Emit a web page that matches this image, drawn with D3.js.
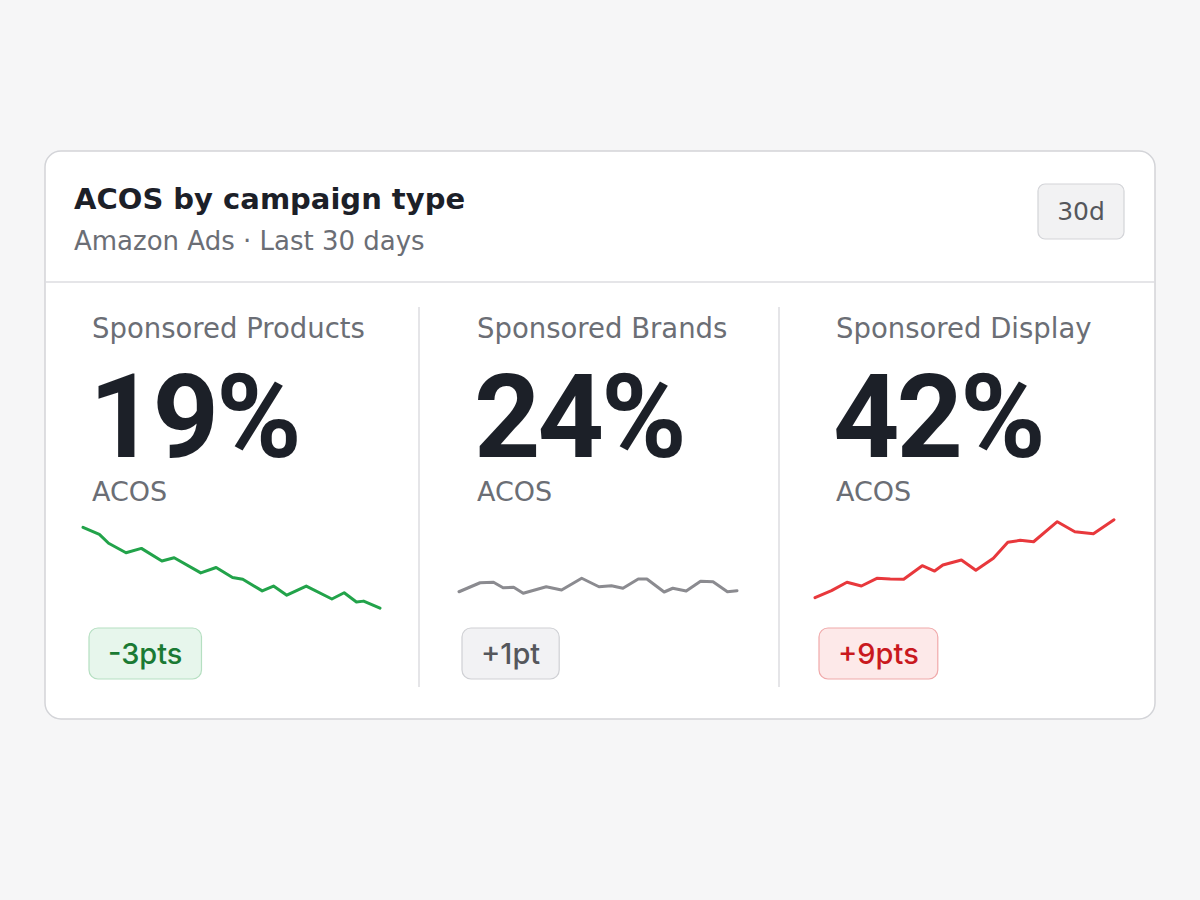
<!DOCTYPE html>
<html><head><meta charset="utf-8">
<script src="https://cdn.jsdelivr.net/npm/d3@7/dist/d3.min.js"></script>
<style>html,body{margin:0;padding:0;background:#f6f6f7;}svg{display:block;font-family:"DejaVu Sans",sans-serif;}</style>
</head><body>
<script>
// ---- data ----
const title = "ACOS by campaign type";
const subtitle = "Amazon Ads · Last 30 days";
const periodLabel = "30d";
const categories = ["Sponsored Products", "Sponsored Brands", "Sponsored Display"];
const acosValues = [19, 24, 42];
const metricLabel = "ACOS";
const changeLabels = ["-3pts", "+1pt", "+9pts"];
const trendKinds = ["good", "flat", "bad"];

// sparkline points: day position (0-29) and ACOS %
const productsDays = [0, 1.6, 2.5, 4.2, 5.7, 7.7, 8.9, 11.5, 13.0, 14.6, 15.6, 17.5, 18.6, 19.9, 21.8, 24.3, 25.5, 26.7, 27.4, 29];
const productsAcos = [22.0, 21.74, 21.41, 21.06, 21.22, 20.75, 20.87, 20.31, 20.51, 20.14, 20.07, 19.64, 19.82, 19.48, 19.82, 19.34, 19.57, 19.23, 19.26, 19.0];
const brandsDays = [0, 2.2, 3.6, 4.6, 5.7, 6.7, 9.1, 10.7, 12.8, 14.6, 15.9, 17.1, 18.7, 19.6, 21.4, 22.3, 23.7, 25.2, 26.5, 28.0, 29];
const brandsAcos = [23.50, 23.86, 23.88, 23.66, 23.68, 23.44, 23.70, 23.57, 24.04, 23.70, 23.74, 23.64, 24.01, 24.01, 23.49, 23.64, 23.53, 23.92, 23.90, 23.50, 23.54];
const displayDays = [0, 1.6, 3.1, 4.5, 6.0, 7.3, 8.6, 10.4, 11.6, 12.4, 14.2, 15.6, 17.3, 18.7, 19.9, 21.2, 23.5, 25.2, 27.0, 29];
const displayAcos = [33.0, 33.81, 34.78, 34.35, 35.24, 35.16, 35.12, 36.69, 36.08, 36.77, 37.35, 36.16, 37.55, 39.39, 39.62, 39.46, 41.77, 40.62, 40.39, 42.0];
const sparkDomains = [[18.93, 22.35], [22.77, 26.45], [31.58, 42.2]];

const seriesDays = [productsDays, brandsDays, displayDays];
const seriesAcos = [productsAcos, brandsAcos, displayAcos];

// ---- styles ----
const styles = {
  good: {line: "#22a34a", fill: "#e7f6ec", stroke: "#b5dfc1", text: "#1a7a33"},
  flat: {line: "#8b8b90", fill: "#f2f2f4", stroke: "#cfd0d4", text: "#55575c"},
  bad:  {line: "#e8383c", fill: "#fde9e9", stroke: "#f0a9aa", text: "#c9191e"}
};

const W = 1200, H = 900;
const svg = d3.select("body").append("svg").attr("width", W).attr("height", H);
svg.append("rect").attr("width", W).attr("height", H).attr("fill", "#f6f6f7");

const card = {x: 45, y: 151, w: 1110, h: 568};
svg.append("rect").attr("x", card.x).attr("y", card.y).attr("width", card.w).attr("height", card.h)
  .attr("rx", 16).attr("fill", "#ffffff").attr("stroke", "#d3d4d8").attr("stroke-width", 1.5);

svg.append("text").attr("x", 74).attr("y", 209).text(title)
  .attr("font-size", 29).attr("font-weight", 700).attr("fill", "#1c2028");
svg.append("text").attr("x", 74).attr("y", 250).text(subtitle)
  .attr("font-size", 26).attr("fill", "#6b6e75");

svg.append("rect").attr("x", 1038).attr("y", 184).attr("width", 86).attr("height", 55).attr("rx", 7)
  .attr("fill", "#f2f2f3").attr("stroke", "#d3d4d8").attr("stroke-width", 1.2);
svg.append("text").attr("x", 1081).attr("y", 220).attr("text-anchor", "middle").text(periodLabel)
  .attr("font-size", 25).attr("fill", "#55575c");

svg.append("line").attr("x1", card.x).attr("x2", card.x + card.w).attr("y1", 282).attr("y2", 282)
  .attr("stroke", "#dcdde0").attr("stroke-width", 1.5);

const dividers = [419, 779];
dividers.forEach(x => svg.append("line").attr("x1", x).attr("x2", x).attr("y1", 307).attr("y2", 687)
  .attr("stroke", "#dcdde0").attr("stroke-width", 1.5));

const colText = [92, 477, 836];
const sparkX = [[83, 380], [459, 737], [815, 1114]];
const pillX = [89, 462, 819];
const sparkYRange = [610, 518];

categories.forEach((cat, i) => {
  const st = styles[trendKinds[i]];
  const g = svg.append("g");
  g.append("text").attr("x", colText[i]).attr("y", 338).text(cat)
    .attr("font-size", 27.5).attr("fill", "#6b6e75");
  g.append("text").attr("x", colText[i] - 3).attr("y", 457).text(acosValues[i] + "%")
    .attr("font-family", "Roboto").attr("font-size", 116).attr("font-weight", 700)
    .attr("fill", "#1c2028").attr("letter-spacing", -3);
  g.append("text").attr("x", colText[i]).attr("y", 501).text(metricLabel)
    .attr("font-size", 27).attr("fill", "#6b6e75");

  const x = d3.scaleLinear().domain([0, 29]).range(sparkX[i]);
  const y = d3.scaleLinear().domain(sparkDomains[i]).range(sparkYRange);
  const pts = seriesDays[i].map((d, k) => [d, seriesAcos[i][k]]);
  g.append("path").datum(pts)
    .attr("d", d3.line().x(d => x(d[0])).y(d => y(d[1])))
    .attr("fill", "none").attr("stroke", st.line).attr("stroke-width", 3)
    .attr("stroke-linejoin", "round").attr("stroke-linecap", "round");

  const pill = g.append("g");
  const t = pill.append("text").attr("y", 664).text(changeLabels[i])
    .attr("font-family", "Inter").attr("font-weight", 500)
    .attr("font-size", 29).attr("fill", st.text).attr("text-anchor", "middle");
  const tw = t.node().getComputedTextLength();
  const pw = tw + 38;
  pill.insert("rect", "text").attr("x", pillX[i]).attr("y", 628).attr("width", pw).attr("height", 51)
    .attr("rx", 9).attr("fill", st.fill).attr("stroke", st.stroke).attr("stroke-width", 1.2);
  t.attr("x", pillX[i] + pw / 2);
});
</script>
</body></html>
